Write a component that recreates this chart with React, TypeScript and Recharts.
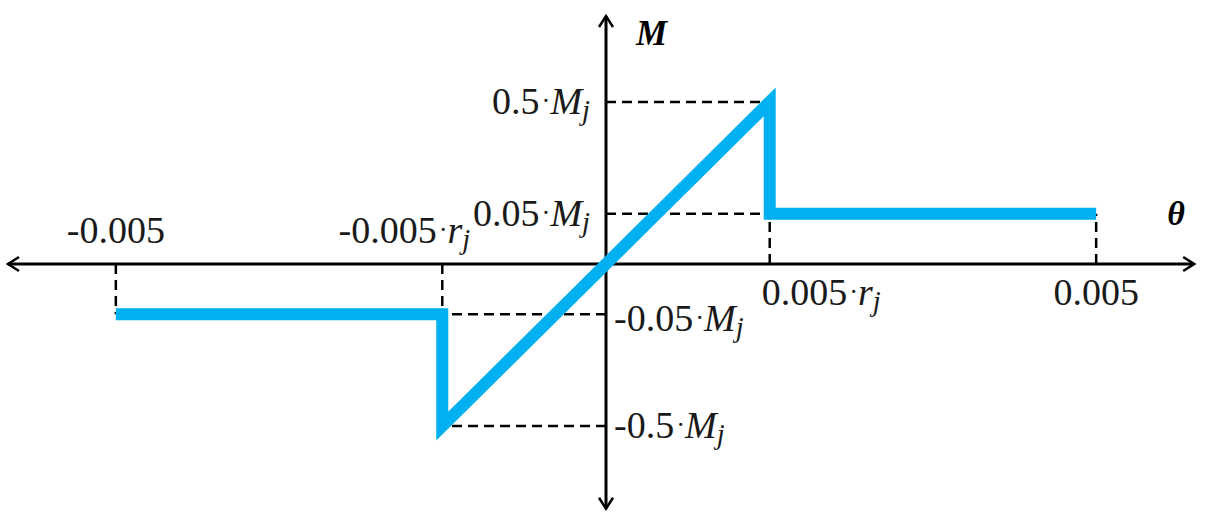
import * as React from "react";
import {
  ComposedChart,
  Line,
  XAxis,
  YAxis,
  ReferenceLine,
  ReferenceDot,
} from "recharts";

// joint rotation θ (rad) and drawn moment level (schematic units, 0.5 = 0.5·Mj)
const thetaValues = [-0.005, -0.00167, -0.00167, 0.00167, 0.00167, 0.005];
const momentValues = [-0.155, -0.155, -0.5, 0.5, 0.155, 0.155];

const thetaTicks = [-0.005, -0.00167, 0.00167, 0.005];
const thetaCoefs = ["-0.005", "-0.005", "0.005", "0.005"];
const thetaSymbols = ["", "r", "r", ""];
const thetaLevels = [-0.155, -0.5, 0.155, 0.155];

const momentTicks = [0.5, 0.155, -0.155, -0.5];
const momentCoefs = ["0.5", "0.05", "-0.05", "-0.5"];
const momentCorners = [0.00167, 0.00167, -0.00167, -0.00167];

const data = thetaValues.map((theta, i) => ({ theta, m: momentValues[i] }));

const BLUE = "#00b0f0";
const FONT = '"Liberation Serif", "Times New Roman", serif';
const FS = 38;

function RichLabel({ x, y, coef, sym, anchor }: any) {
  return (
    <text x={x} y={y} textAnchor={anchor} fontFamily={FONT} fontSize={FS} fill="#1a1a1a">
      <tspan>{coef}</tspan>
      {sym ? (
        <>
          <tspan dx={2} dy={-4} fontSize={FS * 0.7}>·</tspan>
          <tspan dy={4} fontStyle="italic">{sym}</tspan>
          <tspan dy={6} fontStyle="italic" fontSize={FS * 0.75}>j</tspan>
        </>
      ) : null}
    </text>
  );
}

function Arrow({ x1, y1, x2, y2 }: any) {
  const horiz = Math.abs(y1 - y2) < 1;
  const h = 11;
  const w = 7;
  const heads = horiz
    ? `M${x1 + h},${y1 - w} L${x1},${y1} L${x1 + h},${y1 + w} M${x2 - h},${y2 - w} L${x2},${y2} L${x2 - h},${y2 + w}`
    : `M${x1 - w},${y1 + h} L${x1},${y1} L${x1 + w},${y1 + h} M${x2 - w},${y2 - h} L${x2},${y2} L${x2 + w},${y2 - h}`;
  return (
    <g>
      <line x1={x1} y1={y1} x2={x2} y2={y2} stroke="#000" strokeWidth={3} />
      <path d={heads} stroke="#000" strokeWidth={2.5} fill="none" />
    </g>
  );
}

const dash = { stroke: "#000", strokeWidth: 2.5, strokeDasharray: "10 6" };

export default function App() {
  return (
    <div style={{ position: "absolute", left: 0, top: 0, background: "#fff" }}>
      <ComposedChart
        width={1212}
        height={522}
        data={data}
        margin={{ top: 16, right: 8, bottom: 10, left: 8 }}
      >
        <XAxis
          dataKey="theta"
          type="number"
          domain={[-0.0061, 0.0061]}
          allowDataOverflow
          hide
        />
        <YAxis type="number" domain={[-0.765, 0.765]} allowDataOverflow hide />

        {thetaTicks.map((t, i) => (
          <ReferenceLine
            key={"v" + i}
            segment={[
              { x: t, y: 0 },
              { x: t, y: thetaLevels[i] },
            ]}
            {...dash}
          />
        ))}
        {momentTicks.map((m, i) => (
          <ReferenceLine
            key={"h" + i}
            segment={[
              { x: 0, y: m },
              { x: momentCorners[i], y: m },
            ]}
            {...dash}
          />
        ))}

        <ReferenceLine
          segment={[
            { x: -0.0061, y: 0 },
            { x: 0.006, y: 0 },
          ]}
          shape={(p: any) => <Arrow {...p} />}
        />
        <ReferenceLine
          segment={[
            { x: 0, y: 0.765 },
            { x: 0, y: -0.755 },
          ]}
          shape={(p: any) => <Arrow {...p} />}
        />

        <Line
          dataKey="m"
          type="linear"
          stroke={BLUE}
          strokeWidth={12}
          strokeLinejoin="miter"
          dot={false}
          activeDot={false}
          isAnimationActive={false}
        />

        {thetaTicks.map((t, i) => (
          <ReferenceDot
            key={"tl" + i}
            x={t}
            y={0}
            r={0}
            shape={(p: any) => {
              const above = t < 0;
              const anchor = i === 0 || i === 3 ? "middle" : i === 1 ? "end" : "start";
              const dx = i === 1 ? 28 : i === 2 ? -8 : 0;
              return (
                <RichLabel
                  x={p.cx + dx}
                  y={p.cy + (above ? -21 : 41)}
                  coef={thetaCoefs[i]}
                  sym={thetaSymbols[i]}
                  anchor={anchor}
                />
              );
            }}
          />
        ))}
        {momentTicks.map((m, i) => (
          <ReferenceDot
            key={"ml" + i}
            x={0}
            y={m}
            r={0}
            shape={(p: any) => {
              const pos = m > 0;
              return (
                <RichLabel
                  x={p.cx + (pos ? -16 : 8)}
                  y={p.cy + (i === 2 ? 17 : 12)}
                  coef={momentCoefs[i]}
                  sym="M"
                  anchor={pos ? "end" : "start"}
                />
              );
            }}
          />
        ))}

        <ReferenceDot
          x={0}
          y={0.765}
          r={0}
          shape={(p: any) => (
            <text x={p.cx + 30} y={p.cy + 29} fontFamily={FONT} fontSize={35} fontWeight="bold" fontStyle="italic" fill="#000">
              M
            </text>
          )}
        />
        <ReferenceDot
          x={0.006}
          y={0}
          r={0}
          shape={(p: any) => (
            <text x={p.cx - 27} y={p.cy - 39} fontFamily={FONT} fontSize={34} fontWeight="bold" fontStyle="italic" fill="#000">
              θ
            </text>
          )}
        />
      </ComposedChart>
    </div>
  );
}
